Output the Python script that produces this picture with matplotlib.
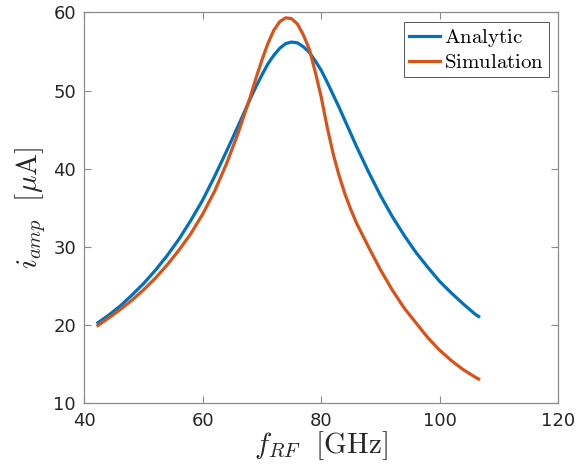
import matplotlib
matplotlib.use('Agg')
import matplotlib.pyplot as plt

plt.rcParams['mathtext.fontset'] = 'cm'
plt.rcParams['font.family'] = 'DejaVu Sans'

# frequency (GHz)
f_rf = [42.3, 44, 46, 48, 50, 52, 54, 56, 58, 60, 62, 64, 66, 68, 69, 70, 71, 72, 73, 74,
        75, 76, 77, 78, 79, 80, 81, 82, 83, 84, 85, 86, 87, 88, 90, 92, 94, 96, 98, 100,
        102, 104, 106, 106.6]

# amplitude (uA)
analytic = [20.3, 21.2, 22.4, 23.8, 25.3, 27.0, 28.9, 31.0, 33.4, 36.0, 39.0, 42.2, 45.5, 48.9,
            50.5, 52.0, 53.4, 54.5, 55.4, 56.0, 56.2, 56.1, 55.6, 54.9, 53.8, 52.6, 51.1, 49.5,
            47.9, 46.2, 44.5, 42.8, 41.2, 39.6, 36.6, 33.9, 31.5, 29.3, 27.4, 25.6, 24.1, 22.7,
            21.4, 21.1]
simulation = [19.95, 20.85, 21.95, 23.15, 24.5, 26.0, 27.7, 29.6, 31.7, 34.2, 37.1, 40.6, 44.6,
              49.1, 51.6, 53.9, 56.0, 57.7, 58.8, 59.3, 59.2, 58.5, 57.1, 55.3, 52.4, 49.2, 45.4,
              42.0, 39.2, 36.8, 34.8, 33.0, 31.5, 30.0, 27.1, 24.5, 22.2, 20.3, 18.4, 16.8, 15.45,
              14.3, 13.35, 13.1]

fig = plt.figure(figsize=(5.84, 4.75), dpi=100)
ax = fig.add_axes([0.1443, 0.151, 0.8112, 0.823])

ax.plot(f_rf, analytic, color='#0072BD', lw=2.3, label=r'$\mathrm{Analytic}$')
ax.plot(f_rf, simulation, color='#D95319', lw=2.3, label=r'$\mathrm{Simulation}$')

ax.set(xlim=(40, 120), ylim=(10, 60))
ax.set_xticks([40, 60, 80, 100, 120])
ax.set_yticks([10, 20, 30, 40, 50, 60])

for s in ax.spines.values():
    s.set_color('#8c8c8c')
    s.set_linewidth(0.9)
ax.tick_params(direction='in', top=True, right=True, length=5, width=0.8,
               color='#8c8c8c', labelsize=13, labelcolor='#262626', pad=6)

ax.set_xlabel(r'$f_{RF}\ \ [\mathrm{GHz}]$', fontsize=21, color='#262626', labelpad=0)
ax.set_ylabel(r'$i_{amp}\ \ [\mu\mathrm{A}]$', fontsize=21, color='#262626', labelpad=4)

leg = ax.legend(loc='upper right', fontsize=15, fancybox=False, framealpha=1,
                edgecolor='#555555', handlelength=1.5, handletextpad=0.15,
                borderpad=0.25, labelspacing=0.15, borderaxespad=0.45)
leg.get_frame().set_linewidth(0.7)

fig.savefig('out.png', dpi=100)
